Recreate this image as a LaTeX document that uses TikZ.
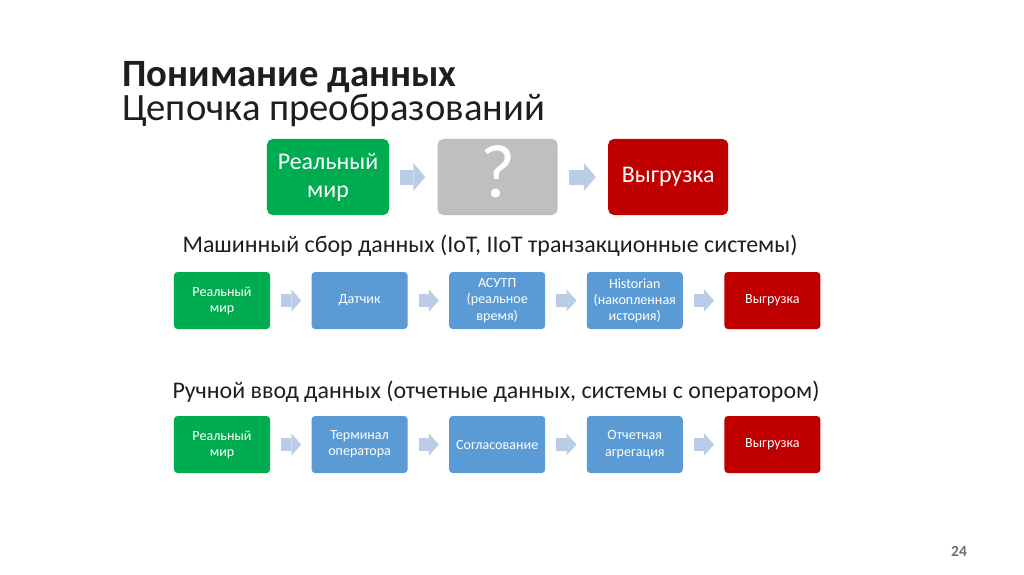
\documentclass[tikz,border=0pt]{standalone}
\usepackage{fontspec}
\setmainfont{Carlito}
\usetikzlibrary{arrows.meta,positioning}
\definecolor{gcol}{RGB}{0,172,80}
\definecolor{rcol}{RGB}{192,0,0}
\definecolor{qcol}{RGB}{191,191,191}
\definecolor{bcol}{RGB}{91,155,213}
\definecolor{acol}{RGB}{186,204,230}
\definecolor{tcol}{RGB}{30,30,30}
\definecolor{ncol}{RGB}{110,110,110}
\newcommand\titlefont{\fontsize{27.5}{24}\selectfont\lineskiplimit=-40pt\relax}

\begin{document}
\begin{tikzpicture}[x=0.025cm, y=-0.025cm,
  bigbox/.style={rounded corners=4pt, minimum width=3.05cm, minimum height=1.9cm, inner sep=0pt, align=center, text=white, font=\fontsize{17}{20}\selectfont},
  box/.style={rounded corners=2.5pt, minimum width=2.4cm, minimum height=1.425cm, inner sep=0pt, align=center, text=white, font=\fontsize{10}{11.5}\selectfont},
  flow/.style={acol, line width=0.375cm, -{Triangle[length=0.3cm, width=0.7cm, line width=0pt]}, shorten <=0.275cm, shorten >=0.3cm},
  smallflow/.style={acol, line width=0.325cm, -{Triangle[length=0.25cm, width=0.55cm, line width=0pt]}, shorten <=0.275cm, shorten >=0.25cm},
  sub/.style={text=tcol, font=\fontsize{17}{20}\selectfont}]
\fill[white] (0,0) rectangle (1024,574);
\useasboundingbox (0,0) rectangle (1024,574);

% title
\node[anchor=north west, inner sep=0pt, align=left, text=tcol, font=\titlefont] (title) at (122,61) {{\bfseries Понимание данных}\\Цепочка преобразований};

% top chain
\node[bigbox, fill=gcol] (real1) at (328,177) {Реальный\\мир};
\node[bigbox, fill=qcol, minimum width=3cm, right=1.2cm of real1, font=\fontsize{54}{54}\selectfont, text depth=0.275cm] (quest) {?};
\node[bigbox, fill=rcol, minimum width=3cm, right=1.25cm of quest] (unload1) {Выгрузка};
\draw[flow] (real1) -- (quest);
\draw[flow] (quest) -- (unload1);

% machine data
\node[sub] (mach) at (490,246) {Машинный сбор данных (IoT, IIoT транзакционные системы)};
\node[box, fill=gcol] (real2) at (222,300.5) {Реальный\\мир};
\node[box, fill=bcol, right=1.025cm of real2] (sensor) {Датчик};
\node[box, fill=bcol, right=1.025cm of sensor] (scada) {АСУТП\\(реальное\\время)};
\node[box, fill=bcol, right=1.025cm of scada] (hist) {Historian\\(накопленная\\история)};
\node[box, fill=rcol, right=1.025cm of hist] (unload2) {Выгрузка};
\draw[smallflow] (real2) -- (sensor);
\draw[smallflow] (sensor) -- (scada);
\draw[smallflow] (scada) -- (hist);
\draw[smallflow] (hist) -- (unload2);

% manual data
\node[sub] (manual) at (496,392) {Ручной ввод данных (отчетные данных, системы с оператором)};
\node[box, fill=gcol] (real3) at (222,444.5) {Реальный\\мир};
\node[box, fill=bcol, right=1.025cm of real3] (term) {Терминал\\оператора};
\node[box, fill=bcol, right=1.025cm of term] (agree) {Согласование};
\node[box, fill=bcol, right=1.025cm of agree] (report) {Отчетная\\агрегация};
\node[box, fill=rcol, right=1.025cm of report] (unload3) {Выгрузка};
\draw[smallflow] (real3) -- (term);
\draw[smallflow] (term) -- (agree);
\draw[smallflow] (agree) -- (report);
\draw[smallflow] (report) -- (unload3);

\node[text=ncol, font=\fontsize{11}{13}\selectfont\bfseries] (page) at (959,551) {24};
\end{tikzpicture}
\end{document}
